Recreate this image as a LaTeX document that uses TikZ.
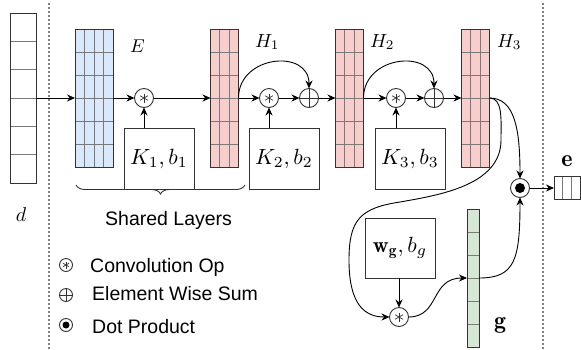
\documentclass[tikz,border=0pt]{standalone}
\usepackage{graphicx}
\usepackage{fontspec}
\newfontfamily\hv{Liberation Sans}
\usetikzlibrary{arrows.meta,calc,decorations.pathreplacing}
\definecolor{bluef}{HTML}{DAE8FC}
\definecolor{redf}{HTML}{F8CECC}
\definecolor{greenf}{HTML}{D5E8D4}
\definecolor{bord}{HTML}{333333}
\definecolor{gridc}{HTML}{7A7A7A}
\definecolor{dotc}{HTML}{808080}
\newcommand\mscale[2]{\scalebox{#1}{$#2$}}
\tikzset{
  vec/.style={draw=bord, line width=1pt, inner sep=0pt, outer sep=0pt},
  gl/.style={draw=gridc, line width=0.8pt},
  opc/.style={circle, draw=bord, line width=0.9pt, minimum size=19pt, inner sep=0pt, outer sep=0pt, fill=white},
  legc/.style={circle, draw=bord, line width=0.9pt, minimum size=13pt, inner sep=0pt, outer sep=0pt},
  kbox/.style={draw=bord, line width=1pt, inner sep=0pt, outer sep=0pt, minimum width=70pt},
  arr/.style={-{Stealth[length=8pt,width=7pt]}, line width=0.9pt, draw=black},
  lbl/.style={inner sep=0pt},
  leg/.style={inner sep=0pt, anchor=base west, font=\hv\fontsize{19.5}{22}\selectfont},
  sep/.style={draw=dotc, line width=1.2pt, dash pattern=on 2pt off 2pt},
}
\newcommand\mygrid[3]{%
  \foreach \i in {1,...,#3}{\draw[gl] ($(#1.north west)!\i/#3!(#1.south west)$) -- ($(#1.north east)!\i/#3!(#1.south east)$);}
  \foreach \j in {1,...,#2}{\draw[gl] ($(#1.north west)!\j/#2!(#1.north east)$) -- ($(#1.south west)!\j/#2!(#1.south east)$);}
  \draw[vec] (#1.north west) rectangle (#1.south east);
}
\newcommand\astk[2]{%
  \foreach \a in {90,30,150}{\draw[line width=0.7pt, draw=bord] ($(#1)+(\a:#2)$) -- ($(#1)+(\a+180:#2)$);}
}
\newcommand\plusk[1]{%
  \draw[line width=0.9pt, draw=bord] (#1.north) -- (#1.south) (#1.west) -- (#1.east);
}
\begin{document}
\begin{tikzpicture}[x=1pt,y=-1pt]
\useasboundingbox (0,0) rectangle (581,349);
% separators
\draw[sep] (49,3) -- (49,349);
\draw[sep] (543,3) -- (543,349);
% vectors / matrices
\node[vec, fill=white, minimum width=26pt, minimum height=170pt] (d) at (23,98) {};
\mygrid{d}{1}{6}
\node[vec, fill=bluef, minimum width=38pt, minimum height=138pt] (E) at (94,98) {};
\mygrid{E}{4}{6}
\node[vec, fill=redf, minimum width=28pt, minimum height=138pt] (H1) at (224.5,98) {};
\mygrid{H1}{3}{6}
\node[vec, fill=redf, minimum width=28pt, minimum height=138pt] (H2) at (349.5,98) {};
\mygrid{H2}{3}{6}
\node[vec, fill=redf, minimum width=28pt, minimum height=138pt] (H3) at (475.5,98) {};
\mygrid{H3}{3}{6}
\node[vec, fill=greenf, minimum width=12pt, minimum height=138pt] (g) at (473,278) {};
\mygrid{g}{1}{6}
\node[vec, fill=white, minimum width=26pt, minimum height=23pt] (e) at (567,188) {};
\mygrid{e}{3}{1}
% labels
\node[lbl, anchor=base west] (lE) at (130,52) {\mscale{1.85}{E}};
\node[lbl, anchor=base west] (lH1) at (255,47) {\mscale{1.9}{H_1}};
\node[lbl, anchor=base west] (lH2) at (370,47) {\mscale{1.9}{H_2}};
\node[lbl, anchor=base west] (lH3) at (497,47) {\mscale{1.9}{H_3}};
\node[lbl, anchor=base] (ld) at (21,221) {\mscale{2.0}{d}};
\node[lbl, anchor=base] (le) at (567,166) {\mscale{2.4}{\mathbf{e}}};
\node[lbl, anchor=base] (lg) at (500,328) {\mscale{2.4}{\mathbf{g}}};
% kernel boxes
\node[kbox, minimum height=61pt] (K1) at (159,158.5) {\mscale{2.2}{K_1, b_1}};
\node[kbox, minimum height=61pt] (K2) at (284,158.5) {\mscale{2.2}{K_2, b_2}};
\node[kbox, minimum height=61pt] (K3) at (410,158.5) {\mscale{2.2}{K_3, b_3}};
\node[kbox, minimum height=60pt] (wg) at (400,248) {\mscale{2.2}{\mathbf{w}_{\mathbf{g}}, b_g}};
% operators
\node[opc] (c1) at (144,98) {};
\node[opc] (c2) at (269,98) {};
\node[opc] (p1) at (309,98) {};
\node[opc] (c3) at (396,98) {};
\node[opc] (p2) at (434,98) {};
\node[opc] (c4) at (399,317) {};
\node[opc] (dot) at (520,188) {};
\astk{c1}{4.5}\astk{c2}{4.5}\astk{c3}{4.5}\astk{c4}{4.5}
\plusk{p1}\plusk{p2}
\fill[black] (dot) circle (5);
% main flow
\draw[arr] (d.east) -- (E.west);
\draw[arr] (E.east) -- (c1.west);
\draw[arr] (c1.east) -- (H1.west);
\draw[arr] (H1.east) -- (c2.west);
\draw[arr] (c2.east) -- (p1.west);
\draw[arr] (p1.east) -- (H2.west);
\draw[arr] (H2.east) -- (c3.west);
\draw[arr] (c3.east) -- (p2.west);
\draw[arr] (p2.east) -- (H3.west);
% kernels into convolutions
\draw[arr] (c1 |- K1.north) -- (c1.south);
\draw[arr] (c2 |- K2.north) -- (c2.south);
\draw[arr] (c3 |- K3.north) -- (c3.south);
\draw[arr] (c4 |- wg.south) -- (c4.north);
% skip connections
\draw[arr] (H1.east) .. controls +(0,-43) and +(0,-40) .. (p1.north);
\draw[arr] (H2.east) .. controls +(0,-43) and +(0,-40) .. (p2.north);
% output branches
\draw[arr] (H3.east) .. controls (515,98) and (520,130) .. (dot.north);
\draw[arr] (H3.east) .. controls (503,98) and (501,120) .. (501,140)
  .. controls (501,185) and (440,195) .. (400,202)
  .. controls (360,208) and (349,220) .. (349,260)
  .. controls (349,305) and (365,317) .. (c4.west);
\draw[arr] (c4.east) .. controls (440,317) and (430,278) .. (g.west);
\draw[arr] (g.east) .. controls (515,278) and (520,260) .. (dot.south);
\draw[arr] (dot.east) -- (e.west);
% brace
\draw[draw=bord, line width=0.9pt, decorate, decoration={brace, amplitude=9pt}] (245,185) -- (76,185);
\node[leg] (shared) at (105,225) {Shared Layers};
% legend
\node[legc] (lc) at (66,265) {};
\astk{lc}{3.5}
\node[legc] (lp) at (66,295) {};
\plusk{lp}
\node[legc] (ldp) at (66,325) {};
\fill[black] (ldp) circle (3.5);
\node[leg] (t1) at (90,272) {Convolution Op};
\node[leg] (t2) at (92,300) {Element Wise Sum};
\node[leg] (t3) at (92,333) {Dot Product};
\end{tikzpicture}
\end{document}
